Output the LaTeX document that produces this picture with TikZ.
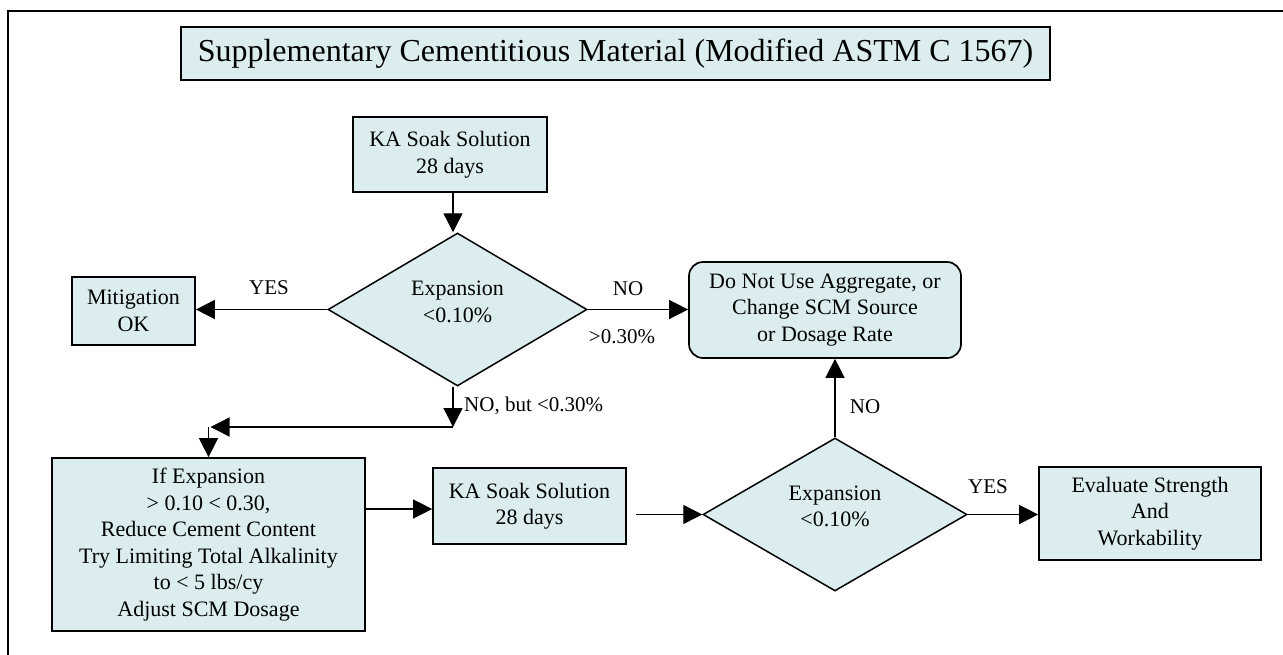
\documentclass[tikz,border=0pt]{standalone}
\usepackage{fontspec}
\setmainfont{Liberation Serif}
\usetikzlibrary{shapes.geometric,arrows.meta}
\definecolor{boxfill}{RGB}{219,237,239}
\begin{document}
\begin{tikzpicture}[x=1pt,y=-1pt,
  box/.style={draw=black,line width=1.7pt,fill=boxfill,inner sep=0pt,align=center,
    font=\fontsize{22}{26.5}\selectfont},
  dia/.style={diamond,draw=black,line width=1.5pt,fill=boxfill,inner sep=0pt,shape aspect=1.7},
  dtext/.style={align=center,inner sep=0pt,font=\fontsize{22}{26.5}\selectfont},
  lbl/.style={inner sep=0pt,font=\fontsize{21}{25}\selectfont},
  arr/.style={line width=1.4pt,-{Triangle[length=19pt,width=19pt]}},
]
\useasboundingbox (0,0) rectangle (1283,654);
\clip (0,0) rectangle (1283,654);
\fill[white] (0,0) rectangle (1283,654);
% frame
\draw[line width=1.5pt] (8,11) rectangle (1320,700);
% title
\node[box,minimum width=869pt,minimum height=53pt,font=\fontsize{32}{38}\selectfont] (title) at (615.5,53.5) {Supplementary Cementitious Material (Modified ASTM C 1567)};
% boxes
\node[box,minimum width=194pt,minimum height=75pt] (ka1) at (450,154.5) {KA Soak Solution\\28 days};
\node[box,minimum width=123pt,minimum height=68pt] (mit) at (133.5,311) {Mitigation\\OK};
\node[box,rounded corners=14pt,minimum width=272pt,minimum height=96pt] (donot) at (825,310) {Do Not Use Aggregate, or\\Change SCM Source\\or Dosage Rate};
\node[box,minimum width=313pt,minimum height=173pt] (lbox) at (208.5,544.5) {If Expansion\\{}> 0.10 < 0.30,\\Reduce Cement Content\\Try Limiting Total Alkalinity\\to < 5 lbs/cy\\Adjust SCM Dosage};
\node[box,minimum width=193pt,minimum height=76pt] (ka2) at (529.5,506) {KA Soak Solution\\28 days};
\node[box,minimum width=222pt,minimum height=93pt] (eval) at (1150,513.5) {Evaluate Strength\\And\\Workability};
% diamonds
\node[dia,minimum width=259pt,minimum height=153pt] (d1) at (457.5,309.5) {};
\node[dtext] (d1t) at (457.5,302) {Expansion\\<0.10\%};
\node[dia,minimum width=264pt,minimum height=153pt] (d2) at (835,514.5) {};
\node[dtext] (d2t) at (835,506.5) {Expansion\\<0.10\%};
% coordinates
\coordinate (c1) at (453,427);
\coordinate (c2) at (208.5,427);
% connectors
\draw[arr] ([xshift=3pt]ka1.south) -- ([xshift=3pt]ka1.south |- d1.north);
\draw[arr] (d1.west) -- (d1.west -| mit.east);
\draw[arr] (d1.east) -- (d1.east -| donot.west);
\draw[arr] ([xshift=-4.5pt]d1.south) -- (c1);
\draw[arr] (c1) -- ([xshift=2pt]c2);
\draw[arr] (c2) -- (lbox.north);
\draw[arr] ([yshift=35.5pt]lbox.east) -- ([yshift=35.5pt]lbox.east -| ka2.west);
\draw[arr] ([xshift=9pt]ka2.east |- d2.west) -- (d2.west);
\draw[arr] (d2.north) -- (d2.north |- donot.south);
\draw[arr] (d2.east) -- (d2.east -| eval.west);
% labels
\node[lbl] (lyes1) at (269,288) {YES};
\node[lbl] (lno1) at (628,289) {NO};
\node[lbl] (lgt) at (622,337) {>0.30\%};
\node[lbl,anchor=west] (lnobut) at (464,406) {NO, but <0.30\%};
\node[lbl] (lno2) at (865,407) {NO};
\node[lbl] (lyes2) at (988,487) {YES};
\end{tikzpicture}
\end{document}
